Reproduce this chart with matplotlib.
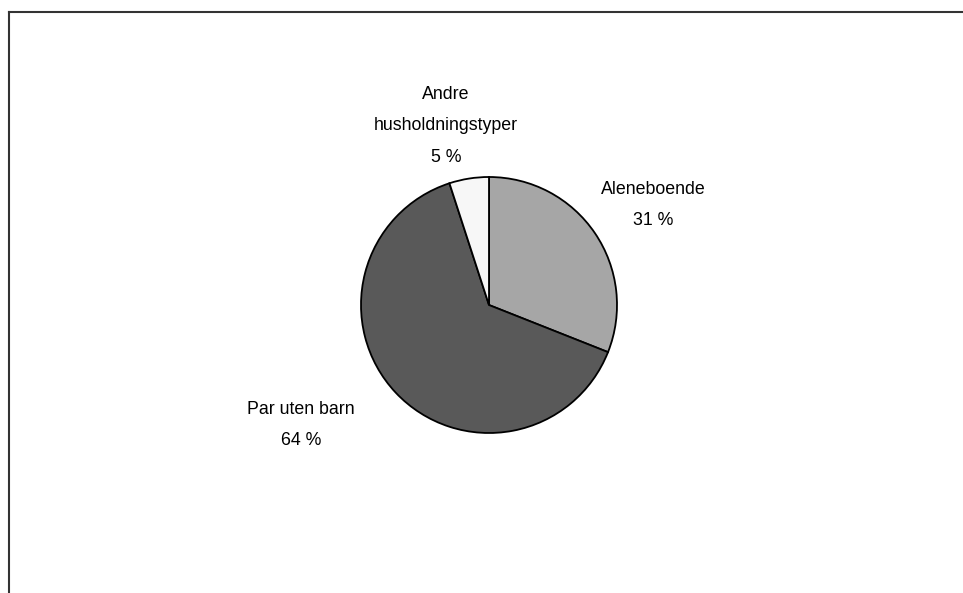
import matplotlib.pyplot as plt
from matplotlib.lines import Line2D

# Household types share (%)
categories = ["Aleneboende", "Par uten barn", "Andre\nhusholdningstyper"]
shares = [31, 64, 5]
colors = ["#a6a6a6", "#595959", "#f7f7f7"]

W, H = 963, 593
fig = plt.figure(figsize=(W / 100, H / 100), dpi=100)
ax = fig.add_axes([0, 0, 1, 1])

# pie centre and radius in pixel units
cx, cy, r = 489, H - 305, 128
ax.pie(shares, colors=colors, startangle=90, counterclock=False,
       center=(cx, cy), radius=r, frame=True,
       wedgeprops=dict(edgecolor="black", linewidth=1.3))
ax.set_xlim(0, W)
ax.set_ylim(0, H)
ax.set_aspect("equal")
ax.axis("off")

# label anchor positions (pixel coords from top)
label_pos = [(653, 205), (301, 425), (446, 126)]
for name, val, (x, y) in zip(categories, shares, label_pos):
    ax.text(x, H - y, f"{name}\n{val} %", ha="center", va="center",
            fontsize=12.8, family="Liberation Sans", linespacing=2.15,
            color="black")

# frame of the chart area (cropped at right and bottom)
fig.add_artist(Line2D([8.5 / W, 1], [1 - 11.5 / H, 1 - 11.5 / H],
                      transform=fig.transFigure, color="#333333", lw=1.5))
fig.add_artist(Line2D([8.5 / W, 8.5 / W], [0, 1 - 11.5 / H],
                      transform=fig.transFigure, color="#333333", lw=1.5))

fig.savefig("out.png", dpi=100)
